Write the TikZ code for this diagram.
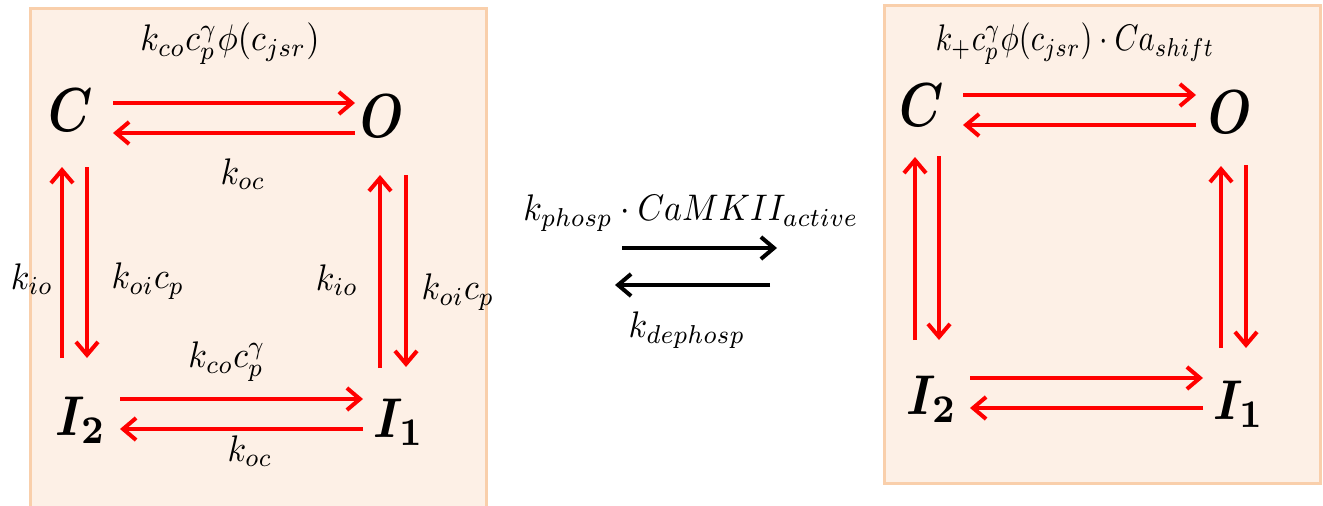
\documentclass[tikz,border=0pt]{standalone}
\usepackage{amsmath,bm}
\usetikzlibrary{arrows.meta}
\definecolor{boxfill}{HTML}{FDF0E6}
\definecolor{boxline}{HTML}{F9CFAB}
\definecolor{arrred}{HTML}{FF0000}
\begin{document}
\begin{tikzpicture}[x=1pt,y=-1pt,
  panel/.style={draw=boxline,fill=boxfill,line width=3pt},
  state/.style={inner sep=0pt,xscale=5.0,yscale=6.2},
  istate/.style={inner sep=0pt,xscale=5.0,yscale=5.6},
  rate/.style={inner sep=0pt,xscale=3.4,yscale=3.7},
  redarr/.style={draw=arrred,line width=4pt,-{Straight Barb[length=13pt,width=22pt]}},
  blkarr/.style={draw=black,line width=4pt,-{Straight Barb[length=13pt,width=22pt]}}]
\useasboundingbox (0,0) rectangle (1323,506);
% panels
\path[panel] (30,8) rectangle (486,520);
\path[panel] (884,5) rectangle (1320,483);

% ---------- left scheme ----------
\node[state] (LC) at (71,110) {$\bm{C}$};
\node[state] (LO) at (382,116) {$\bm{O}$};
\node[istate] (LI2) at (81,420) {$\bm{I_2}$};
\node[istate] (LI1) at (399,422) {$\bm{I_1}$};

\coordinate (la1) at (113,103); \coordinate (la2) at (355,103);
\coordinate (lb1) at (355,133); \coordinate (lb2) at (113,133);
\coordinate (lc1) at (62,358);  \coordinate (lc2) at (62,167);
\coordinate (ld1) at (87,167);  \coordinate (ld2) at (87,358);
\coordinate (le1) at (380,368); \coordinate (le2) at (380,175);
\coordinate (lf1) at (406,175); \coordinate (lf2) at (406,367);
\coordinate (lg1) at (120,399); \coordinate (lg2) at (363,399);
\coordinate (lh1) at (363,429); \coordinate (lh2) at (120,429);

\draw[redarr] (la1) -- (la2);
\draw[redarr] (lb1) -- (lb2);
\draw[redarr] (lc1) -- (lc2);
\draw[redarr] (ld1) -- (ld2);
\draw[redarr] (le1) -- (le2);
\draw[redarr] (lf1) -- (lf2);
\draw[redarr] (lg1) -- (lg2);
\draw[redarr] (lh1) -- (lh2);

\node[rate] (r1) at (230,44) {$k_{co}c_p^{\gamma}\phi(c_{jsr})$};
\node[rate] (r2) at (243,174) {$k_{oc}$};
\node[rate] (r3) at (32,279) {$k_{io}$};
\node[rate] (r4) at (148,281) {$k_{oi}c_p$};
\node[rate] (r5) at (337,280) {$k_{io}$};
\node[rate] (r6) at (458,292) {$k_{oi}c_p$};
\node[rate] (r7) at (227,362) {$k_{co}c_p^{\gamma}$};
\node[rate] (r8) at (250,451) {$k_{oc}$};

% ---------- middle ----------
\node[rate] (m1) at (691,213) {$k_{phosp}\cdot CaMKII_{active}$};
\node[rate] (m2) at (687,330) {$k_{dephosp}$};
\coordinate (ma1) at (622,248); \coordinate (ma2) at (777,248);
\coordinate (mb1) at (770,285); \coordinate (mb2) at (615,285);
\draw[blkarr] (ma1) -- (ma2);
\draw[blkarr] (mb1) -- (mb2);

% ---------- right scheme ----------
\node[state] (RC) at (922,105) {$\bm{C}$};
\node[state] (RO) at (1230,112) {$\bm{O}$};
\node[istate] (RI2) at (932,399) {$\bm{I_2}$};
\node[istate] (RI1) at (1239,404) {$\bm{I_1}$};

\coordinate (ra1) at (963,95);   \coordinate (ra2) at (1196,95);
\coordinate (rb1) at (1196,125); \coordinate (rb2) at (963,125);
\coordinate (rc1) at (915,340);  \coordinate (rc2) at (915,157);
\coordinate (rd1) at (939,156);  \coordinate (rd2) at (939,340);
\coordinate (re1) at (1221,348); \coordinate (re2) at (1221,166);
\coordinate (rf1) at (1246,165); \coordinate (rf2) at (1246,348);
\coordinate (rg1) at (970,378);  \coordinate (rg2) at (1203,378);
\coordinate (rh1) at (1203,408); \coordinate (rh2) at (970,408);

\draw[redarr] (ra1) -- (ra2);
\draw[redarr] (rb1) -- (rb2);
\draw[redarr] (rc1) -- (rc2);
\draw[redarr] (rd1) -- (rd2);
\draw[redarr] (re1) -- (re2);
\draw[redarr] (rf1) -- (rf2);
\draw[redarr] (rg1) -- (rg2);
\draw[redarr] (rh1) -- (rh2);

\node[rate,xscale=0.9] (r9) at (1075,44) {$k_{+}c_p^{\gamma}\phi(c_{jsr})\cdot Ca_{shift}$};
\end{tikzpicture}
\end{document}
